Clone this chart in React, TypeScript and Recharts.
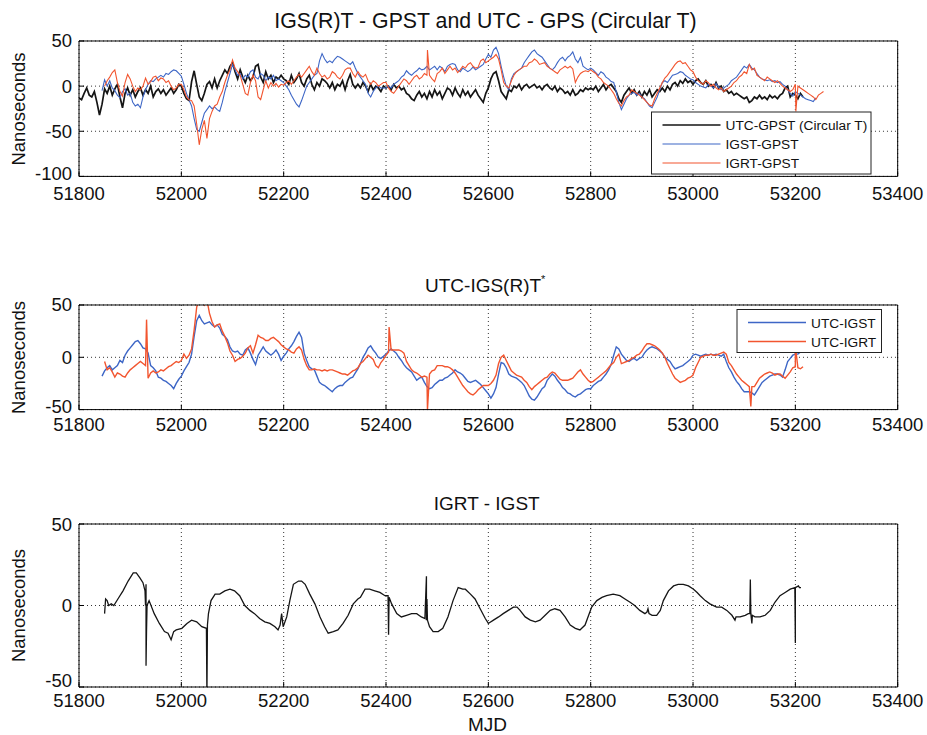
import React from "react";
import { LineChart, Line, XAxis, YAxis, CartesianGrid } from "recharts";

const FONT = "'Liberation Sans', Arial, Helvetica, sans-serif";
const STEP = 5; // spacing of the gridded series, in days

const mjdTicks = [51800, 52000, 52200, 52400, 52600, 52800, 53000, 53200, 53400];
const gpsTicks = [-100, -50, 0, 50];
const diffTicks = [-50, 0, 50];

const BLUE = "#3d66c6";
const RED = "#f2552f";
const BLACK = "#151515";

// ---- top panel: IGS(R)T - GPST and UTC - GPST ----
const utcGpstStart = 51800;
const utcGpst = [
  -13, -15, -8, -2, -10, -12, -6, -18, -32, -20,
  -3, -8, 0, -10, -3, 2, -12, -24, -8, -2,
  -10, -4, -12, -6, -2, -10, -4, -8, 0, -12,
  -6, -3, -8, -4, -10, -6, -2, -8, -4, 2,
  0, -8, -14, -16, 5, 17, 2, -12, -16, -8,
  2, 5, -2, 8, -2, 6, 12, 18, 14, 22,
  26, 16, 8, 18, 10, 4, 12, 6, 10, 22,
  24, 10, 4, 16, 8, 12, 4, 10, 8, 12,
  8, 6, 2, 12, 4, 8, 14, 4, 0, 8,
  12, 2, -4, 4, 0, 8, 6, 3, -2, 4,
  -4, 2, 0, 6, -4, 6, 13, 2, -2, 2,
  -2, 4, 0, -6, 2, -4, 0, -2, -6, 0,
  -2, 0, -4, 2, -2, 0, -4, -2, -8, -10,
  -14, -16, -10, -6, -12, -8, -14, -6, -12, -4,
  -10, -6, -14, -8, -2, -4, -10, -2, -8, -12,
  -4, -10, -6, -12, -8, -4, -10, -14, -18, -8,
  -2, 8, 14, 16, 6, -6, -10, -14, -4, -6,
  0, -2, 2, -4, 0, 2, -2, 0, 2, -2,
  0, -4, 0, 2, -2, -4, 0, -6, -2, -4,
  -8, -6, -10, -4, -10, -8, -4, -6, -2, -4,
  -2, -4, 0, -6, -2, 2, -4, 0, 2, -2,
  -6, -14, -18, -10, -6, -2, -8, -4, -10, -6,
  -12, -6, -10, -4, -12, -8, -4, -6, -2, -6,
  0, -4, 2, 4, 0, 6, 3, 8, 4, 6,
  2, 6, 8, 4, 2, 6, 0, 2, -2, 4,
  -2, 0, -6, -4, -8, -6, -10, -8, -10, -12,
  -14, -12, -18, -16, -12, -14, -10, -14, -12, -15,
  -10, -13, -11, -14, -10, -8, -2, 0, -12, -8,
  -10, -14, -8, -12,
];

const igstGpstStart = 51845;
const igstGpst = [
  -5, 7, 0, 6, -2, -5, -10, -13, -6, -3,
  -10, -8, -18, -22, -20, -24, -12, -4, 2, 6,
  5, 8, 10, 12, 10, 14, 13, 16, 18, 17,
  14, 11, 2, -8, -15, -22, -36, -48, -50, -40,
  -30, -26, -22, -25, -23, -26, -28, -18, -6, 4,
  14, 24, 18, 12, 14, 8, 12, 10, 16, 18,
  10, 8, 14, 12, 6, 10, 8, 12, 6, 8,
  6, 4, 0, -4, -10, -15, -20, -23, -16, -8,
  0, 4, 8, 12, 14, 28, 36, 30, 26, 28,
  26, 30, 33, 32, 30, 28, 26, 24, 27, 20,
  14, 10, 6, 2, -8, -12, -6, -2, 0, -2,
  -2, -2, 0, -2, 2, 4, 6, 10, 12, 17,
  14, 12, 15, 17, 20, 18, 19, 22, 18, 20,
  22, 18, 22, 20, 16, 22, 24, 25, 24, 18,
  16, 20, 18, 16, 18, 21, 18, 20, 22, 24,
  30, 35, 32, 40, 43, 36, 22, 10, 0, -4,
  8, 14, 16, 18, 20, 26, 30, 34, 38, 40,
  36, 34, 32, 28, 24, 20, 18, 21, 26, 30,
  32, 28, 32, 34, 38, 30, 26, 32, 22, 20,
  18, 20, 18, 15, 12, 16, 14, 10, 8, 5,
  4, -6, -18, -26, -20, -14, -10, -8, -7, -10,
  -8, -12, -14, -18, -22, -24, -18, -12, -4, 4,
  6, 4, 8, 12, 13, 14, 16, 15, 12, 10,
  8, 7, 4, 2, 0, -1, -2, 2, 0, -2,
  3, -1, -4, -2, 0, 2, 6, 8, 10, 14,
  18, 22, 20, 24, 20, 18, 14, 10, 8, 7,
  6, 7, 5, 6, 4, 5, 2, 0, -4, -8,
  -11, -6, -8, -10, -12, -14, -15, -16, -17, -13,
];

const igrtGpstStart = 51850;
const igrtGpst = [
  0, 6, 10, 15, 18, 4, -6, -11, 4, 13,
  8, 0, -6, -2, -4, 0, 9, 2, 5, 10,
  11, 6, 9, 8, 4, 6, 0, -4, -2, 2,
  2, -4, -12, -15, -16, -22, -42, -65, -48, -38,
  -58, -36, -28, -22, -20, -12, -6, 4, 12, 18,
  29, 20, 16, 12, 2, -8, -10, 4, 12, 6,
  -12, -15, -4, 6, -2, 4, 0, 3, -1, 2,
  1, 4, 6, 2, 6, 10, 13, 10, 14, 18,
  22, 16, 12, 20, 14, 10, 12, 8, 10, 16,
  14, 10, 8, 12, 18, 20, 20, 14, 10, 16,
  12, 10, 13, 6, 2, 6, 4, 0, 2, 4,
  4, -2, -6, -8, -4, 0, 4, 8, 6, 2,
  6, 10, 12, 8, 10, 14, 12, 12, 8, 5,
  14, 16, 20, 14, 18, 22, 18, 20, 15, 18,
  22, 20, 24, 26, 22, 20, 21, 28, 30, 26,
  28, 30, 32, 35, 30, 18, 4, 0, -2, 6,
  12, 16, 18, 20, 22, 22, 26, 27, 30, 28,
  24, 25, 26, 22, 20, 18, 16, 14, 18, 20,
  22, 20, 22, 19, 4, 10, 14, 16, 17, 16,
  18, 16, 14, 10, 8, 4, 2, 0, -4, -8,
  -14, -19, -22, -16, -12, -10, -4, -6, -8, -10,
  -12, -15, -18, -21, -22, -14, -8, -2, 4, 9,
  12, 16, 20, 24, 27, 28, 25, 26, 22, 18,
  16, 10, 6, 4, 2, 6, 4, 0, 2, -2,
  -4, -2, -6, -4, -2, 0, 4, 6, 10, 12,
  16, 14, 24, 18, 20, 12, 10, 8, 6, 10,
  8, 6, 4, 6, 3, 0, -2, -4, -6, -4,
  2, 0, -2, -4, -6, -8, -10, -12, -15, -10,
  -8, -6,
];
const igrtGpstSpikes: [number, number][] = [[52481, 40], [53201, -28]];

// ---- middle panel: UTC - IGS(R)T ----
const utcIgstStart = 51845;
const utcIgst = [
  -18, -13, -10, -8, -12, -10, -8, -3, -5, 2,
  6, 9, 12, 15, 16, 13, 9, 8, 4, -8,
  -10, -13, -19, -20, -22, -23, -25, -27, -30, -25,
  -21, -18, -13, -9, -5, 3, 20, 35, 40, 35,
  32, 33, 34, 31, 29, 31, 28, 22, 20, 17,
  10, 6, 5, 6, 3, 2, 7, 9, 4, -2,
  -7, 2, 6, 10, 6, 4, 2, 4, 7, 3,
  -3, 1, 4, 8, 11, 15, 20, 24, 19, 4,
  -3, -9, -11, -12, -18, -24, -26, -27, -29, -31,
  -33, -30, -28, -27, -27, -24, -22, -20, -19, -15,
  -11, -6, 0, 4, 9, 11, 7, 4, 0, -1,
  1, 3, 6, 8, 6, 4, 0, -3, -7, -10,
  -12, -14, -18, -22, -20, -19, -24, -28, -30, -29,
  -26, -24, -22, -22, -20, -19, -17, -15, -12, -14,
  -15, -17, -20, -23, -24, -23, -22, -24, -26, -29,
  -32, -35, -39, -35, -29, -16, -5, -6, -10, -16,
  -18, -19, -20, -22, -24, -27, -32, -37, -40, -41,
  -38, -34, -30, -28, -22, -19, -16, -18, -22, -25,
  -29, -31, -34, -35, -37, -38, -36, -35, -33, -31,
  -30, -30, -27, -25, -23, -22, -19, -16, -12, -7,
  2, 10, 8, 3, 0, -3, -4, -2, -1, -3,
  -1, 0, 4, 7, 9, 10, 9, 8, 6, 4,
  0, -2, -4, -8, -11, -10, -9, -8, -6, -4,
  -2, 2, 3, 2, 1, 2, 3, 2, 3, 2,
  3, 2, 1, 3, -4, -10, -14, -19, -23, -26,
  -30, -33, -33, -33, -34, -36, -32, -28, -24, -22,
  -20, -18, -17, -16, -16, -17, -19, -12, -4, -1,
  2, 3, 3, 5, 7,
];

const utcIgrtStart = 51850;
const utcIgrt = [
  -4, -12, -10, -14, -19, -15, -16, -18, -19, -15,
  -12, -10, -8, -6, -4, -6, -8, -20, -15, -13,
  -15, -14, -12, -13, -11, -9, -8, -6, -4, -5,
  -3, 3, -1, 2, 8, 26, 48, 55, 54, 50,
  55, 42, 34, 29, 31, 32, 25, 20, 14, 6,
  2, -4, -2, -1, 1, 4, 9, 11, 4, 12,
  21, 19, 18, 16, 16, 18, 19, 17, 15, 12,
  10, 8, 7, 5, 4, 8, 10, 7, -2, -8,
  -12, -12, -11, -12, -12, -13, -12, -13, -12, -12,
  -13, -14, -15, -16, -16, -17, -15, -13, -12, -10,
  -6, -4, -1, 2, 0, -2, -8, -10, -5, -2,
  2, 5, 7, 7, 7, 7, 6, 4, -4, -8,
  -12, -14, -15, -17, -19, -18, -19, -16, -13, -12,
  -8, -8, -8, -9, -9, -10, -12, -15, -19, -23,
  -27, -30, -33, -35, -36, -34, -31, -29, -27, -27,
  -27, -25, -22, -17, -6, 0, 2, -3, -8, -13,
  -15, -17, -18, -19, -22, -24, -28, -31, -28, -26,
  -24, -22, -20, -19, -16, -14, -15, -18, -21, -22,
  -22, -22, -21, -20, -17, -14, -12, -16, -19, -22,
  -24, -23, -21, -19, -17, -15, -13, -10, -7, -5,
  0, 3, -6, -5, -4, -3, -1, 0, 2, 3,
  6, 10, 13, 13, 12, 11, 9, 7, 4, 0,
  -6, -11, -16, -20, -22, -24, -23, -22, -20, -19,
  -17, -10, -5, 0, 1, 2, 2, 3, 2, 2,
  3, 4, 5, 3, -5, -8, -12, -16, -19, -22,
  -24, -26, -28, -28, -28, -24, -20, -18, -16, -15,
  -14, -15, -17, -16, -16, -18, -20, -17, -14, -10,
  -9, -10, -11, -9,
];
const utcIgrtSpikes: [number, number][] = [
  [51932, 36], [52406, 29], [52481, -50], [53113, -47], [53200, 11],
];

// ---- bottom panel: IGRT - IGST, [MJD, ns] ----
const igrtIgst: [number, number][] = [
  [51850, -5], [51852, 4], [51855, 3], [51858, 0], [51863, 1], [51868, 0], [51876, 4],
  [51886, 9], [51896, 15], [51906, 20], [51912, 20], [51919, 17], [51925, 14], [51929, 9],
  [51930, 0], [51931, 13], [51931, -37], [51932, -15], [51933, 0], [51937, 3], [51947, -5],
  [51957, -11], [51967, -16], [51974, -17], [51980, -21], [51985, -16], [51990, -15],
  [52001, -14], [52011, -11], [52020, -9], [52030, -10], [52040, -13], [52049, -14],
  [52050, -55], [52051, -12], [52053, -5], [52058, 3], [52066, 7], [52075, 7], [52085, 9],
  [52095, 10], [52104, 9], [52114, 6], [52124, 0], [52134, -3], [52143, -5], [52153, -8],
  [52163, -10], [52173, -11], [52183, -13], [52189, -15], [52193, -12], [52196, -5],
  [52199, -13], [52206, -7], [52212, 3], [52219, 13], [52229, 15], [52235, 15], [52242, 13],
  [52251, 7], [52261, 1], [52271, -7], [52280, -13], [52287, -17], [52297, -16], [52306, -15],
  [52316, -11], [52326, -6], [52336, 1], [52345, 4], [52350, 5], [52359, 10], [52368, 10],
  [52378, 9], [52388, 8], [52398, 6], [52404, 6], [52405, -18], [52406, 5], [52411, 1],
  [52421, -5], [52430, -7], [52440, -6], [52450, -5], [52460, -5], [52469, -7], [52476, -8],
  [52479, 18], [52479, -9], [52480, 4], [52481, -9], [52485, -13], [52492, -16], [52502, -16],
  [52511, -14], [52521, -7], [52531, 3], [52541, 11], [52550, 10], [52555, 10], [52565, 7],
  [52574, 4], [52584, -2], [52594, -8], [52600, -11], [52610, -9], [52620, -7], [52629, -5],
  [52639, -3], [52649, -1], [52656, -1], [52662, -3], [52672, -7], [52682, -9], [52692, -10],
  [52701, -9], [52711, -6], [52721, -3], [52730, -2], [52740, -3], [52750, -7], [52760, -12],
  [52770, -14], [52779, -15], [52789, -12], [52796, -6], [52802, -1], [52812, 3], [52822, 5],
  [52831, 6], [52844, 7], [52857, 6], [52867, 4], [52877, 2], [52886, 0], [52896, -3],
  [52906, -5], [52910, -4], [52912, -2], [52914, -5], [52920, -6], [52929, -6], [52936, -3],
  [52942, 3], [52952, 9], [52962, 12], [52971, 13], [52981, 13], [52991, 12], [53001, 10],
  [53008, 8], [53014, 6], [53024, 3], [53033, 1], [53046, -1], [53056, -1], [53066, -3],
  [53076, -6], [53082, -9], [53084, -7], [53092, -7], [53102, -6], [53108, -5], [53111, -5],
  [53112, 16], [53113, -5], [53115, -11], [53116, -6], [53121, -7], [53131, -7], [53141, -6],
  [53151, -3], [53160, 2], [53170, 6], [53180, 8], [53190, 10], [53199, 11], [53200, -23],
  [53200, 11], [53206, 12], [53208, 11], [53211, 11],
];

type Pt = { mjd: number; ns: number };

const gridded = (start: number, values: number[], spikes: [number, number][] = []): Pt[] =>
  [
    ...values.map((ns, i) => ({ mjd: start + i * STEP, ns })),
    ...spikes.map(([mjd, ns]) => ({ mjd, ns })),
  ].sort((a, b) => a.mjd - b.mjd);

const utcGpstPts = gridded(utcGpstStart, utcGpst);
const igstGpstPts = gridded(igstGpstStart, igstGpst);
const igrtGpstPts = gridded(igrtGpstStart, igrtGpst, igrtGpstSpikes);
const utcIgstPts = gridded(utcIgstStart, utcIgst);
const utcIgrtPts = gridded(utcIgrtStart, utcIgrt, utcIgrtSpikes);
const igrtIgstPts: Pt[] = igrtIgst.map(([mjd, ns]) => ({ mjd, ns }));

// plot box, page pixels
const PLOT_LEFT = 79;
const PLOT_RIGHT = 897.7;
const PAD_TOP = 20;
const PAD_BOTTOM = 40;

const tickStyle = { fontSize: 18.5, fill: "#111", fontFamily: FONT };

// y tick label; the lowest one is lifted so it clears the MJD labels below
const makeYTick = (lowest: number, lift: number) => (props: any) => {
  const { x, y, payload } = props;
  const dy = payload.value === lowest ? lift : 0;
  return (
    <text x={x} y={y + 6.5 - dy} textAnchor="end" fontSize={18.5} fontFamily={FONT} fill="#111">
      {payload.value}
    </text>
  );
};

interface PanelProps {
  top: number;
  bottom: number;
  yTicks: number[];
  labelGap: number;
  lowLift: number;
  children: React.ReactNode;
}

const Panel = ({ top, bottom, yTicks, labelGap, lowLift, children }: PanelProps) => {
  const height = bottom - top + PAD_TOP + PAD_BOTTOM;
  const yDomain = [yTicks[0], yTicks[yTicks.length - 1]];
  return (
    <div style={{ position: "absolute", left: 0, top: top - PAD_TOP }}>
      <LineChart
        width={927}
        height={height}
        margin={{ top: PAD_TOP - 5, right: 927 - PLOT_RIGHT - 10, bottom: PAD_BOTTOM - 30, left: PLOT_LEFT - 40 }}
      >
        <CartesianGrid stroke="#333" strokeDasharray="1 3" />
        <XAxis
          dataKey="mjd"
          type="number"
          domain={[51800, 53400]}
          ticks={mjdTicks}
          interval={0}
          allowDataOverflow
          height={30}
          tickSize={-5}
          tickMargin={labelGap + 5}
          stroke="#000"
          tick={tickStyle}
        />
        <XAxis
          xAxisId="top"
          orientation="top"
          dataKey="mjd"
          type="number"
          domain={[51800, 53400]}
          ticks={mjdTicks}
          interval={0}
          allowDataOverflow
          height={5}
          tickSize={-5}
          tick={false}
          stroke="#000"
        />
        <YAxis
          type="number"
          domain={yDomain}
          ticks={yTicks}
          interval={0}
          allowDataOverflow
          width={40}
          tickSize={-5}
          tickMargin={12}
          stroke="#000"
          tick={makeYTick(yTicks[0], lowLift)}
        />
        <YAxis
          yAxisId="right"
          orientation="right"
          type="number"
          domain={yDomain}
          ticks={yTicks}
          interval={0}
          allowDataOverflow
          width={10}
          tickSize={-5}
          tick={false}
          stroke="#000"
        />
        {children}
      </LineChart>
    </div>
  );
};

const series = (pts: Pt[], color: string, width: number, key: string) => (
  <Line
    key={key}
    data={pts}
    dataKey="ns"
    type="linear"
    stroke={color}
    strokeWidth={width}
    dot={false}
    activeDot={false}
    isAnimationActive={false}
  />
);

const LegendBox = ({ x, y, w, rows }: { x: number; y: number; w: number; rows: { label: string; color: string; width: number }[] }) => (
  <g>
    <rect x={x} y={y} width={w} height={rows.length * 19 + 5} fill="#fff" stroke="#222" strokeWidth={1} />
    {rows.map((r, i) => {
      const cy = y + 13 + i * 19;
      return (
        <g key={r.label}>
          <line x1={x + 11} x2={x + 69} y1={cy} y2={cy} stroke={r.color} strokeWidth={r.width} />
          <text x={x + 74} y={cy + 5} fontSize={13.7} fontFamily={FONT} fill="#111">
            {r.label}
          </text>
        </g>
      );
    })}
  </g>
);

const yLabel = (cy: number) => (
  <text
    x={25}
    y={cy}
    transform={`rotate(-90 25 ${cy})`}
    textAnchor="middle"
    fontSize={18.5}
    fontFamily={FONT}
    fill="#111"
  >
    Nanoseconds
  </text>
);

export default function App() {
  return (
    <div style={{ position: "absolute", left: 0, top: 0, width: 927, height: 735, background: "#fff", overflow: "hidden" }}>
      <Panel top={41.3} bottom={176.7} yTicks={gpsTicks} labelGap={10.5} lowLift={3}>
        {series(utcGpstPts, BLACK, 1.7, "utc-gpst")}
        {series(igstGpstPts, BLUE, 1.1, "igst-gpst")}
        {series(igrtGpstPts, RED, 1.1, "igrt-gpst")}
      </Panel>
      <Panel top={304.7} bottom={409.3} yTicks={diffTicks} labelGap={8.5} lowLift={3}>
        {series(utcIgstPts, BLUE, 1.4, "utc-igst")}
        {series(utcIgrtPts, RED, 1.4, "utc-igrt")}
      </Panel>
      <Panel top={523.7} bottom={686.7} yTicks={diffTicks} labelGap={7} lowLift={7}>
        {series(igrtIgstPts, BLACK, 1.3, "igrt-igst")}
      </Panel>

      <svg width={927} height={735} style={{ position: "absolute", left: 0, top: 0, pointerEvents: "none" }}>
        <text x={485.5} y={28} textAnchor="middle" fontSize={21.3} fontFamily={FONT} fill="#111">
          IGS(R)T - GPST and UTC - GPS (Circular T)
        </text>
        <text x={425} y={292} fontSize={19} fontFamily={FONT} fill="#111">
          UTC-IGS(R)T
          <tspan dy={-9} fontSize={11}>*</tspan>
        </text>
        <text x={486.7} y={510} textAnchor="middle" fontSize={19} fontFamily={FONT} fill="#111">
          IGRT - IGST
        </text>
        <text x={487.5} y={731} textAnchor="middle" fontSize={19} fontFamily={FONT} fill="#111">
          MJD
        </text>
        {yLabel(109)}
        {yLabel(357.5)}
        {yLabel(605.5)}
        <LegendBox
          x={651.5}
          y={112}
          w={219.5}
          rows={[
            { label: "UTC-GPST (Circular T)", color: BLACK, width: 1.4 },
            { label: "IGST-GPST", color: BLUE, width: 1.2 },
            { label: "IGRT-GPST", color: RED, width: 1.2 },
          ]}
        />
        <LegendBox
          x={737}
          y={309.5}
          w={144.5}
          rows={[
            { label: "UTC-IGST", color: BLUE, width: 1.4 },
            { label: "UTC-IGRT", color: RED, width: 1.4 },
          ]}
        />
      </svg>
    </div>
  );
}
